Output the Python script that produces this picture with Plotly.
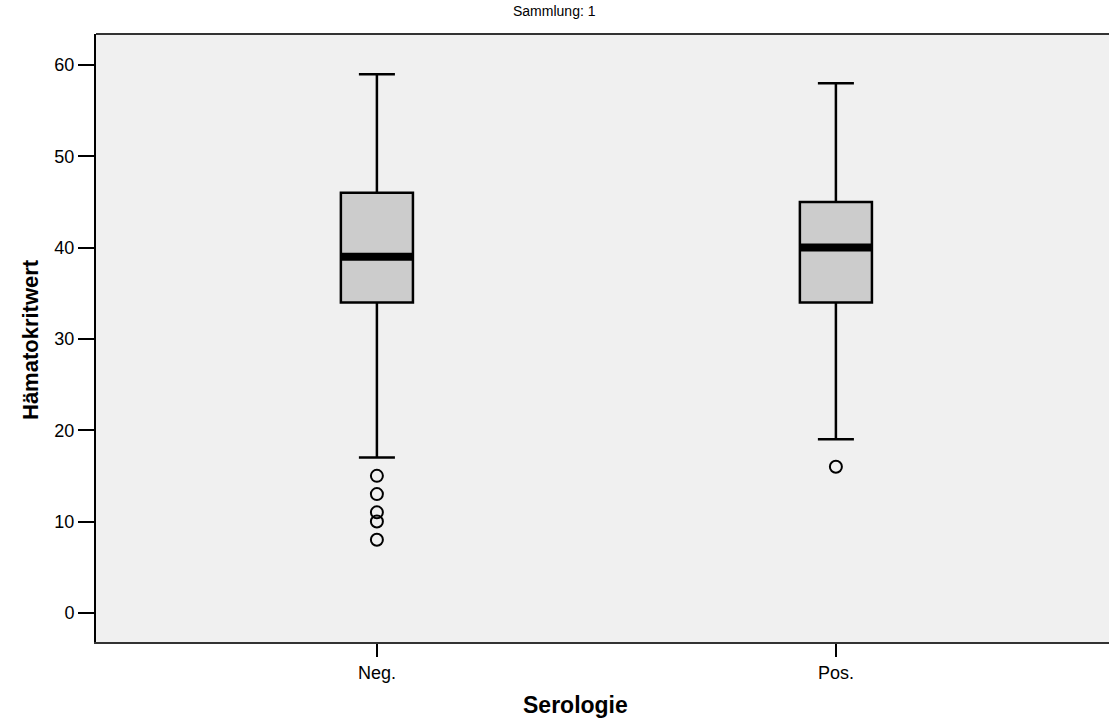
import plotly.graph_objects as go

categories = ["Neg.", "Pos."]
cat_pos = [0, 1]
q1 = [34, 34]
median = [39, 40]
q3 = [46, 45]
lower_whisker = [17, 19]
upper_whisker = [59, 58]
outliers = [[15, 13, 11, 10, 8], [16]]

box_width = 0.157
font_family = "Liberation Sans, Arial, sans-serif"

fig = go.Figure()
for i, c in enumerate(categories):
    fig.add_trace(go.Box(
        x=[cat_pos[i]], q1=[q1[i]], median=[median[i]], q3=[q3[i]],
        lowerfence=[lower_whisker[i]], upperfence=[upper_whisker[i]],
        width=box_width, whiskerwidth=0.5, boxpoints=False,
        fillcolor="#cccccc", line=dict(color="black", width=2.5),
        name=c, showlegend=False, hoverinfo="y"))
    fig.add_trace(go.Scatter(
        x=[cat_pos[i] - box_width / 2, cat_pos[i] + box_width / 2],
        y=[median[i], median[i]], mode="lines",
        line=dict(color="black", width=8), showlegend=False, hoverinfo="skip"))
    fig.add_trace(go.Scatter(
        x=[cat_pos[i]] * len(outliers[i]), y=outliers[i], mode="markers",
        marker=dict(symbol="circle-open", size=12, color="black",
                    line=dict(width=2, color="black")),
        showlegend=False))

pw = 1109 - 96
ph = 720 - 34 - 78

fig.update_layout(
    width=1109, height=720,
    margin=dict(l=96, r=0, t=34, b=78),
    paper_bgcolor="white", plot_bgcolor="#f0f0f0",
    font=dict(family=font_family, color="black", size=18),
    xaxis=dict(range=[-0.612, 1.595], tickvals=cat_pos, ticktext=categories,
               ticks="outside", ticklen=13, tickwidth=2, tickcolor="black",
               showline=True, linecolor="#333333", linewidth=2, mirror=False,
               showgrid=False, zeroline=False, tickfont=dict(size=18)),
    yaxis=dict(range=[-3.2, 63.4], tickvals=[0, 10, 20, 30, 40, 50, 60],
               ticks="outside", ticklen=16, tickwidth=2, tickcolor="black",
               showline=True, linecolor="black", linewidth=2,
               showgrid=False, zeroline=False, tickfont=dict(size=18)),
    shapes=[dict(type="line", xref="paper", yref="paper", x0=0, x1=1, y0=1, y1=1,
                 line=dict(color="#333333", width=2))],
    annotations=[
        dict(text="Sammlung: 1", x=(554.5 - 96) / pw, y=(642 - 11) / ph,
             xref="paper", yref="paper", showarrow=False, font=dict(size=14),
             xanchor="center", yanchor="middle"),
        dict(text="<b>Serologie</b>", x=(575 - 96) / pw, y=(642 - 705) / ph,
             xref="paper", yref="paper", showarrow=False, font=dict(size=23),
             xanchor="center", yanchor="middle"),
        dict(text="<b>Hämatokritwert</b>", x=(30 - 96) / pw, y=(642 - 340) / ph,
             xref="paper", yref="paper", showarrow=False, font=dict(size=22),
             textangle=-90, xanchor="center", yanchor="middle"),
    ],
)

fig.write_html("out.html")
